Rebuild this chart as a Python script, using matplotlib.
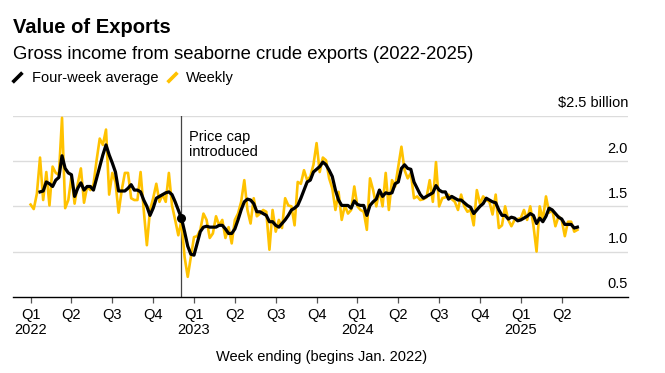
import matplotlib
matplotlib.use('Agg')
import matplotlib.pyplot as plt
from matplotlib.lines import Line2D

plt.rcParams['font.family'] = ['Liberation Sans', 'DejaVu Sans']

# week index 0 = first week of Jan 2022
weekly = [
    1.52, 1.47, 1.64, 2.04, 1.57, 1.88, 1.51, 1.94, 1.87, 1.85,
    2.48, 1.48, 1.57, 1.83, 1.53, 1.75, 1.92, 1.54, 1.72, 1.68,
    1.74, 2.01, 2.25, 2.18, 2.35, 1.63, 1.87, 1.77, 1.43, 1.68,
    1.87, 1.87, 1.59, 1.57, 1.57, 1.88, 1.46, 1.07, 1.46, 1.59,
    1.75, 1.55, 1.63, 1.55, 1.87, 1.51, 1.35, 1.18, 1.34, 0.94,
    0.72, 0.94, 1.16, 1.17, 1.24, 1.42, 1.35, 1.15, 1.20, 1.39,
    1.29, 1.35, 1.15, 1.27, 1.09, 1.35, 1.42, 1.55, 1.79, 1.46,
    1.31, 1.59, 1.39, 1.42, 1.46, 1.44, 1.02, 1.46, 1.22, 1.35,
    1.26, 1.59, 1.51, 1.50, 1.29, 1.77, 1.75, 1.90, 1.79, 1.83,
    1.96, 2.20, 1.88, 2.04, 2.01, 1.81, 1.70, 1.46, 1.66, 1.35,
    1.51, 1.42, 1.46, 1.72, 1.50, 1.46, 1.44, 1.24, 1.81, 1.68,
    1.50, 1.68, 1.50, 1.87, 1.46, 1.79, 1.72, 1.94, 2.16, 1.90,
    1.81, 1.87, 1.59, 1.61, 1.57, 1.58, 1.60, 1.79, 1.55, 1.99,
    1.50, 1.59, 1.60, 1.63, 1.58, 1.55, 1.46, 1.63, 1.50, 1.44,
    1.46, 1.29, 1.68, 1.53, 1.61, 1.57, 1.55, 1.41, 1.63, 1.26,
    1.29, 1.50, 1.35, 1.28, 1.35, 1.36, 1.37, 1.46, 1.35, 1.50,
    1.29, 1.00, 1.50, 1.35, 1.61, 1.43, 1.46, 1.28, 1.39, 1.35,
    1.17, 1.33, 1.33, 1.22, 1.24,
]

# four-week average starts at week 3
avg_start = 3
four_week = [
    1.66, 1.67, 1.77, 1.75, 1.72, 1.79, 1.82, 2.06, 1.92, 1.87,
    1.85, 1.61, 1.70, 1.76, 1.68, 1.72, 1.72, 1.68, 1.81, 1.94,
    2.07, 2.18, 2.07, 1.98, 1.88, 1.67, 1.67, 1.67, 1.70, 1.74,
    1.68, 1.68, 1.66, 1.57, 1.50, 1.40, 1.48, 1.59, 1.61, 1.63,
    1.65, 1.66, 1.63, 1.55, 1.46, 1.37, 1.22, 1.06, 0.97, 0.96,
    1.09, 1.22, 1.27, 1.28, 1.27, 1.27, 1.27, 1.29, 1.29, 1.25,
    1.20, 1.20, 1.25, 1.35, 1.46, 1.55, 1.58, 1.57, 1.53, 1.44,
    1.44, 1.42, 1.40, 1.33, 1.33, 1.29, 1.27, 1.31, 1.35, 1.40,
    1.46, 1.48, 1.51, 1.59, 1.68, 1.77, 1.79, 1.88, 1.91, 1.94,
    1.99, 1.96, 1.90, 1.83, 1.68, 1.57, 1.51, 1.51, 1.51, 1.48,
    1.56, 1.52, 1.51, 1.51, 1.40, 1.51, 1.55, 1.58, 1.68, 1.61,
    1.65, 1.64, 1.65, 1.75, 1.77, 1.92, 1.96, 1.92, 1.91, 1.77,
    1.70, 1.63, 1.59, 1.61, 1.63, 1.65, 1.73, 1.68, 1.66, 1.66,
    1.58, 1.61, 1.59, 1.57, 1.57, 1.54, 1.51, 1.49, 1.42, 1.46,
    1.50, 1.53, 1.59, 1.57, 1.55, 1.54, 1.46, 1.40, 1.40, 1.36,
    1.38, 1.37, 1.34, 1.35, 1.37, 1.39, 1.42, 1.40, 1.31, 1.37,
    1.33, 1.39, 1.48, 1.46, 1.42, 1.38, 1.36, 1.30, 1.30, 1.30,
    1.26, 1.27,
]

price_cap_week = 48

quarter_weeks = [0, 13, 26, 39, 52, 65, 78, 91, 104, 117, 130, 143, 156, 169]
quarter_labels = ['Q1\n2022', 'Q2', 'Q3', 'Q4', 'Q1\n2023', 'Q2', 'Q3', 'Q4',
                  'Q1\n2024', 'Q2', 'Q3', 'Q4', 'Q1\n2025', 'Q2']

y_ticks = [0.5, 1.0, 1.5, 2.0, 2.5]
y_labels = ['0.5', '1.0', '1.5', '2.0', '$2.5 billion']

weeks = list(range(len(weekly)))
avg_weeks = list(range(avg_start, avg_start + len(four_week)))

YELLOW = '#FFC200'

fig = plt.figure(figsize=(6.65, 3.73), dpi=100)
ax = fig.add_axes([13 / 665, 76.3 / 373, 615 / 665, 180.7 / 373])

ax.set_xlim(-5.6, 190.1)
ax.set_ylim(0.5, 2.5)

# gridlines
for v in y_ticks[1:]:
    ax.axhline(v, color='#dcdcdc', linewidth=1, zorder=0)

ax.plot(weeks, weekly, color=YELLOW, linewidth=1.9, zorder=2)
ax.plot(avg_weeks, four_week, color='black', linewidth=2.3, zorder=3)

# price cap marker
ax.axvline(price_cap_week, color='#444444', linewidth=0.9, zorder=1)
ax.scatter([price_cap_week], [four_week[price_cap_week - avg_start]],
           color='black', s=30, zorder=4)
ax.text(price_cap_week + 2.5, 2.34, 'Price cap\nintroduced', fontsize=10.5,
        va='top', ha='left', linespacing=1.05)

# y labels on right, above gridlines
for v, lab in zip(y_ticks, y_labels):
    ax.annotate(lab, xy=(1.0, v), xycoords=('axes fraction', 'data'),
                xytext=(0, 4), textcoords='offset points',
                ha='right', va='bottom', fontsize=10.5)

for side in ('top', 'left', 'right'):
    ax.spines[side].set_visible(False)
ax.spines['bottom'].set_color('black')
ax.spines['bottom'].set_linewidth(1)
ax.set_yticks([])
ax.set_xticks(quarter_weeks)
ax.set_xticklabels(quarter_labels, fontsize=10.5, linespacing=1.15)
ax.tick_params(axis='x', length=4.5, width=0.9, color='#555555', pad=3.5)

fig.text(322 / 665, 0.043, 'Week ending (begins Jan. 2022)', ha='center',
         va='center', fontsize=10.5)

fig.text(13 / 665, 0.912, 'Value of Exports', fontsize=14.5, fontweight='bold',
         va='baseline')
fig.text(13 / 665, 0.841, 'Gross income from seaborne crude exports (2022-2025)',
         fontsize=13.3, va='baseline')

handles = [
    Line2D([], [], color='black', lw=0, marker=(2, 0, -45), markersize=10,
           markeredgewidth=2.6, markeredgecolor='black'),
    Line2D([], [], color=YELLOW, lw=0, marker=(2, 0, -45), markersize=10,
           markeredgewidth=2.6, markeredgecolor=YELLOW),
]
fig.legend(handles, ['Four-week average', 'Weekly'], loc='center left',
           bbox_to_anchor=(10 / 665, 0.791), ncol=2, frameon=False,
           fontsize=10.5, handlelength=1.0, handletextpad=0.5,
           columnspacing=0.4, borderpad=0, borderaxespad=0)

fig.savefig('out.png', dpi=100)
